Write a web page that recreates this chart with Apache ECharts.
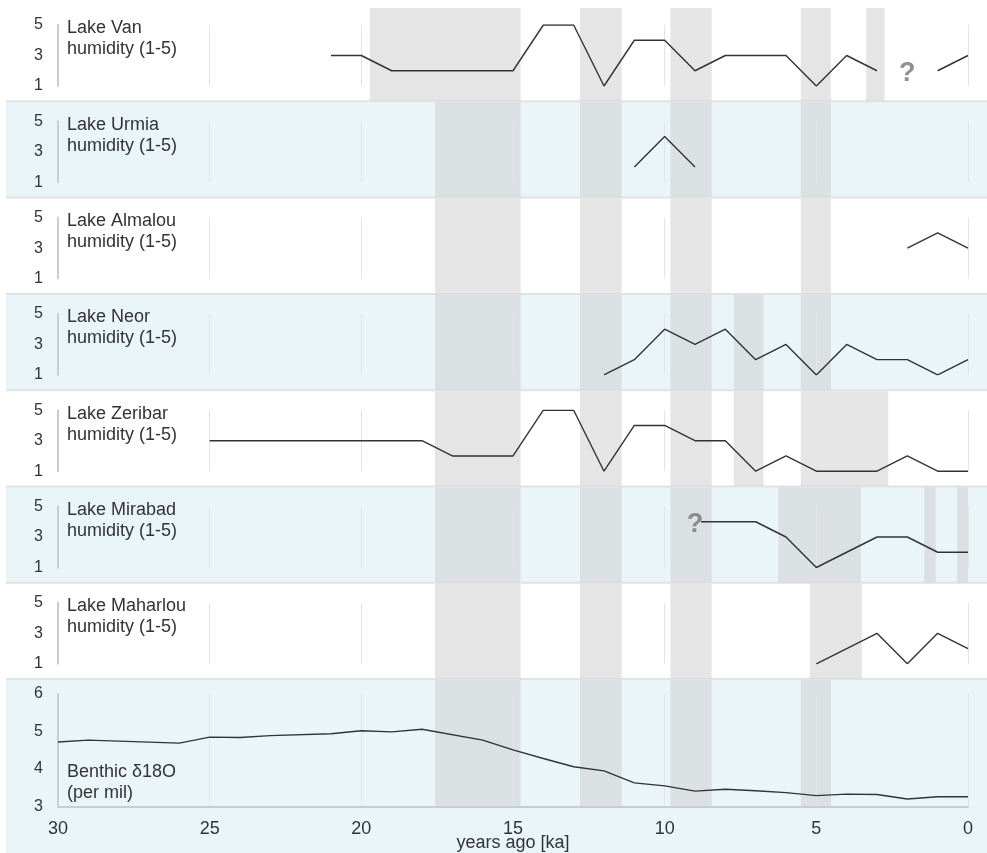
<!DOCTYPE html>
<html>
<head>
<meta charset="utf-8">
<script src="https://cdn.jsdelivr.net/npm/echarts@6/dist/echarts.min.js"></script>
<style>
  html, body { margin: 0; padding: 0; background: #ffffff; }
  #chart { width: 987px; height: 853px; }
</style>
</head>
<body>
<div id="chart"></div>
<script>
// ---- Time axis (thousands of years before present) ----
const xTicks = [30, 25, 20, 15, 10, 5, 0];
const xLabel = 'years ago [ka]';

// ---- Humidity index records: [ka, index 1-5]; '-' breaks the line ----
const vanHumidity = [[21,3],[20,3],[19,2],[15,2],[14,5],[13,5],[12,1],[11,4],[10,4],[9,2],[8,3],[6,3],[5,1],[4,3],[3,2],[2,'-'],[1,2],[0,3]];
const urmiaHumidity = [[11,2],[10,4],[9,2]];
const almalouHumidity = [[2,3],[1,4],[0,3]];
const neorHumidity = [[12,1],[11,2],[10,4],[9,3],[8,4],[7,2],[6,3],[5,1],[4,3],[3,2],[2,2],[1,1],[0,2]];
const zeribarHumidity = [[25,3],[18,3],[17,2],[15,2],[14,5],[13,5],[12,1],[11,4],[10,4],[9,3],[8,3],[7,1],[6,2],[5,1],[3,1],[2,2],[1,1],[0,1]];
const mirabadHumidity = [[8.8,4],[7,4],[6,3],[5,1],[3,3],[2,3],[1,2],[0,2]];
const maharlouHumidity = [[5,1],[3,3],[2,1],[1,3],[0,2]];

// ---- Benthic oxygen isotope stack: [ka, per mil] ----
const benthicD18O = [[30,4.72],[29,4.77],[26,4.69],[25,4.85],[24,4.84],[23,4.89],[21,4.94],[20,5.02],[19,4.99],[18,5.06],[16,4.77],[15,4.51],[14,4.28],[13,4.06],[12,3.95],[11,3.63],[10,3.55],[9,3.41],[8,3.46],[7,3.42],[6,3.37],[5,3.29],[4,3.33],[3,3.32],[2,3.2],[1,3.26],[0,3.26]];

// ---- Uncertain parts of a record, flagged with "?" ----
const vanUncertain = [[2,2]];
const mirabadUncertain = [[9,4]];

// ---- Dry intervals per record: [from ka, to ka] ----
const vanDry = [[19.72,14.75],[12.79,11.42],[9.81,8.45],[5.51,4.52],[3.36,2.75]];
const urmiaDry = [[17.57,14.75],[12.79,11.42],[9.81,8.45],[5.51,4.52]];
const almalouDry = [[17.57,14.75],[12.79,11.42],[9.81,8.45],[5.51,4.52]];
const neorDry = [[17.57,14.75],[12.79,11.42],[9.81,8.45],[7.72,6.74],[5.51,4.52]];
const zeribarDry = [[17.57,14.75],[12.79,11.42],[9.81,8.45],[7.72,6.74],[5.51,2.63]];
const mirabadDry = [[17.57,14.75],[12.79,11.42],[9.81,8.45],[6.25,3.53],[1.44,1.06],[0.36,0]];
const maharlouDry = [[17.57,14.75],[12.79,11.42],[9.81,8.45],[5.21,3.5]];
const benthicDry = [[17.57,14.75],[12.79,11.42],[9.81,8.45],[5.51,4.52]];

const humidityTicks = [1, 3, 5];
const benthicTicks = [3, 4, 5, 6];

const panels = [
  { title: 'Lake Van\nhumidity (1-5)', values: vanHumidity, dry: vanDry, uncertain: vanUncertain },
  { title: 'Lake Urmia\nhumidity (1-5)', values: urmiaHumidity, dry: urmiaDry },
  { title: 'Lake Almalou\nhumidity (1-5)', values: almalouHumidity, dry: almalouDry },
  { title: 'Lake Neor\nhumidity (1-5)', values: neorHumidity, dry: neorDry },
  { title: 'Lake Zeribar\nhumidity (1-5)', values: zeribarHumidity, dry: zeribarDry },
  { title: 'Lake Mirabad\nhumidity (1-5)', values: mirabadHumidity, dry: mirabadDry, uncertain: mirabadUncertain },
  { title: 'Lake Maharlou\nhumidity (1-5)', values: maharlouHumidity, dry: maharlouDry }
];

// ---- Layout ----
const FONT = '"Liberation Sans", Arial, Helvetica, sans-serif';
const TEXT = '#333333';
const PLOT_LEFT = 58, PLOT_WIDTH = 910;
const PANEL_TOP = 5, PANEL_STEP = 96.3;
const BG_LEFT = 6, BG_RIGHT = 987, CHART_BOTTOM = 853;
const BENTHIC_AXIS_Y = 806.5;
const panelTop = i => PANEL_TOP + PANEL_STEP * i;

const grid = [], xAxis = [], yAxis = [], series = [], title = [], graphic = [];

function addGrid(top, height) {
  grid.push({ left: PLOT_LEFT, width: PLOT_WIDTH, top, height, outerBoundsMode: 'none', containLabel: false });
  return grid.length - 1;
}
function bandAxes(gridIndex) {
  xAxis.push({ gridIndex, type: 'value', min: 0, max: 30, inverse: true, show: false });
  yAxis.push({ gridIndex, type: 'value', min: 0, max: 1, show: false });
}
function bandSeries(idx, dry) {
  series.push({
    type: 'line', xAxisIndex: idx, yAxisIndex: idx, data: [], silent: true,
    markArea: {
      silent: true,
      itemStyle: { color: 'rgba(204,204,204,0.5)' },
      data: dry.map(([a, b]) => [{ xAxis: a }, { xAxis: b }])
    }
  });
}
function dataXAxis(gridIndex, showLabels) {
  return {
    gridIndex, type: 'value', min: 0, max: 30, interval: 5, inverse: true, z: 3,
    axisLine: { show: showLabels, onZero: false, lineStyle: { color: '#cccccc', width: 2 } },
    axisTick: { show: false },
    axisLabel: { show: showLabels, color: TEXT, fontSize: 18, fontFamily: FONT, margin: 14 },
    splitLine: { show: true, lineStyle: { color: '#e4e4e4', width: 1 } },
    name: showLabels ? xLabel : '',
    nameLocation: 'middle', nameGap: 28, nameMoveOverlap: false,
    nameTextStyle: { color: TEXT, fontSize: 18, fontFamily: FONT }
  };
}
function dataYAxis(gridIndex, min, max, interval, ticks) {
  return {
    gridIndex, type: 'value', min, max, interval, z: 3,
    axisLine: { show: true, onZero: false, lineStyle: { color: '#cccccc', width: 2 } },
    axisTick: { show: false },
    splitLine: { show: false },
    axisLabel: {
      color: TEXT, fontSize: 16, fontFamily: FONT, margin: 15,
      formatter: v => (ticks.indexOf(v) >= 0 ? String(v) : '')
    }
  };
}

// Panel backgrounds and separators
for (let i = 1; i < 8; i += 2) {
  const top = panelTop(i);
  const bottom = i === 7 ? CHART_BOTTOM : panelTop(i + 1);
  graphic.push({ type: 'rect', z: -10, silent: true,
    shape: { x: BG_LEFT, y: top, width: BG_RIGHT - BG_LEFT, height: bottom - top },
    style: { fill: '#eaf5fa' } });
}
for (let i = 1; i < 8; i++) {
  const y = panelTop(i);
  graphic.push({ type: 'line', z: -5, silent: true,
    shape: { x1: BG_LEFT, y1: y, x2: BG_RIGHT, y2: y },
    style: { stroke: '#e2e2e2', lineWidth: 2 } });
}

// Humidity panels
panels.forEach((p, i) => {
  const top = panelTop(i);
  const bandTop = i === 0 ? top + 3 : top + 1;
  const bandIdx = addGrid(bandTop, top + PANEL_STEP - 0.5 - bandTop);
  bandAxes(bandIdx);
  bandSeries(bandIdx, p.dry);

  const dataIdx = addGrid(top + 20, 61);
  xAxis.push(dataXAxis(dataIdx, false));
  yAxis.push(dataYAxis(dataIdx, 1, 5, 2, humidityTicks));
  series.push({
    type: 'line', xAxisIndex: dataIdx, yAxisIndex: dataIdx, data: p.values,
    showSymbol: false, connectNulls: false, silent: true, z: 4,
    lineStyle: { color: '#333333', width: 1.4 }
  });
  if (p.uncertain) {
    series.push({
      type: 'scatter', xAxisIndex: dataIdx, yAxisIndex: dataIdx, data: p.uncertain,
      symbolSize: 0, silent: true, z: 5,
      label: { show: true, position: 'inside', offset: [0, 3], formatter: '?', color: '#747474',
               fontSize: 27, fontWeight: 'bold', fontFamily: FONT }
    });
  }
  title.push({ text: p.title, left: 67, top: i === 0 ? 17.4 : top + 13, padding: 0,
    textStyle: { color: TEXT, fontSize: 18, fontWeight: 'normal', fontFamily: FONT, lineHeight: 21 } });
});

// Benthic panel
{
  const top = panelTop(7);
  const bandIdx = addGrid(top + 1, BENTHIC_AXIS_Y - top - 1);
  bandAxes(bandIdx);
  bandSeries(bandIdx, benthicDry);

  const dataIdx = addGrid(694, BENTHIC_AXIS_Y - 694);
  xAxis.push(dataXAxis(dataIdx, true));
  yAxis.push(dataYAxis(dataIdx, 3, 6, 1, benthicTicks));
  series.push({
    type: 'line', xAxisIndex: dataIdx, yAxisIndex: dataIdx, data: benthicD18O,
    showSymbol: false, silent: true, z: 4,
    lineStyle: { color: '#333333', width: 1.4 }
  });
  title.push({ text: 'Benthic δ18O\n(per mil)', left: 67, top: 761.4, padding: 0,
    textStyle: { color: TEXT, fontSize: 18, fontWeight: 'normal', fontFamily: FONT, lineHeight: 21 } });
}

const chart = echarts.init(document.getElementById('chart'), null, { renderer: 'canvas' });
chart.setOption({
  animation: false,
  backgroundColor: '#ffffff',
  textStyle: { fontFamily: FONT },
  title, grid, xAxis, yAxis, series, graphic
});
</script>
</body>
</html>
